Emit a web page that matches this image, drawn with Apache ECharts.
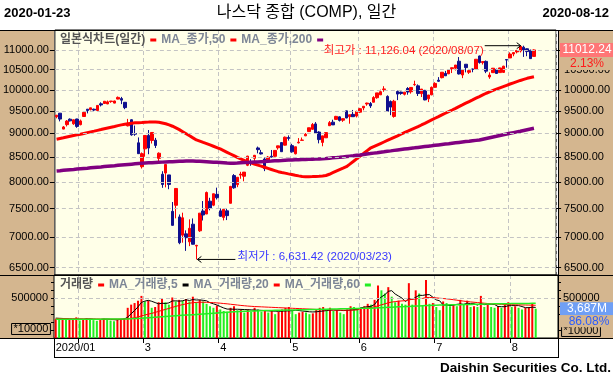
<!DOCTYPE html>
<html><head><meta charset="utf-8">
<script src="https://cdn.jsdelivr.net/npm/echarts@6/dist/echarts.min.js"></script>
<style>html,body{margin:0;padding:0;background:#fff}#c{width:613px;height:382px}</style>
</head><body><div id="c"></div>
<script>
const dates = ['2020-01-23','2020-01-24','2020-01-27','2020-01-28','2020-01-29','2020-01-30','2020-01-31',
'2020-02-03','2020-02-04','2020-02-05','2020-02-06','2020-02-07','2020-02-10','2020-02-11','2020-02-12','2020-02-13','2020-02-14','2020-02-18','2020-02-19','2020-02-20','2020-02-21','2020-02-24','2020-02-25','2020-02-26','2020-02-27','2020-02-28',
'2020-03-02','2020-03-03','2020-03-04','2020-03-05','2020-03-06','2020-03-09','2020-03-10','2020-03-11','2020-03-12','2020-03-13','2020-03-16','2020-03-17','2020-03-18','2020-03-19','2020-03-20','2020-03-23','2020-03-24','2020-03-25','2020-03-26','2020-03-27','2020-03-30','2020-03-31',
'2020-04-01','2020-04-02','2020-04-03','2020-04-06','2020-04-07','2020-04-08','2020-04-09','2020-04-13','2020-04-14','2020-04-15','2020-04-16','2020-04-17','2020-04-20','2020-04-21','2020-04-22','2020-04-23','2020-04-24','2020-04-27','2020-04-28','2020-04-29','2020-04-30',
'2020-05-01','2020-05-04','2020-05-05','2020-05-06','2020-05-07','2020-05-08','2020-05-11','2020-05-12','2020-05-13','2020-05-14','2020-05-15','2020-05-18','2020-05-19','2020-05-20','2020-05-21','2020-05-22','2020-05-26','2020-05-27','2020-05-28','2020-05-29',
'2020-06-01','2020-06-02','2020-06-03','2020-06-04','2020-06-05','2020-06-08','2020-06-09','2020-06-10','2020-06-11','2020-06-12','2020-06-15','2020-06-16','2020-06-17','2020-06-18','2020-06-19','2020-06-22','2020-06-23','2020-06-24','2020-06-25','2020-06-26','2020-06-29','2020-06-30',
'2020-07-01','2020-07-02','2020-07-06','2020-07-07','2020-07-08','2020-07-09','2020-07-10','2020-07-13','2020-07-14','2020-07-15','2020-07-16','2020-07-17','2020-07-20','2020-07-21','2020-07-22','2020-07-23','2020-07-24','2020-07-27','2020-07-28','2020-07-29','2020-07-30','2020-07-31',
'2020-08-03','2020-08-04','2020-08-05','2020-08-06','2020-08-07','2020-08-10','2020-08-11','2020-08-12'];
const blankSlots = ['2020-08-13','2020-08-14','2020-08-17','2020-08-18','2020-08-19','2020-08-20'];

const opens = [9368,9449,9092,9190,9313,9209,9317,
9190,9373,9541,9530,9540,9510,9666,9673,9663,9717,9682,9777,9788,9701,9164,9300,8994,8795,8300,
8667,8954,8845,8852,8470,8150,8174,8137,7450,7560,7350,7033,7055,6920,7222,6850,7107,7457,7402,7636,7562,7763,
7459,7342,7459,7597,8124,7947,8134,8111,8330,8395,8470,8686,8586,8457,8424,8514,8512,8689,8800,8745,8908,
8735,8564,8794,8848,8945,9037,9087,9207,9027,8804,8902,9167,9246,9308,9365,9289,9502,9371,9422,9383,
9472,9571,9662,9672,9703,9809,9878,10004,9840,9721,9375,9957,9944,9892,10030,9952,10123,10095,9906,9985,9784,9878,
10059,10235,10297,10405,10394,10523,10537,10716,10364,10638,10433,10517,10516,10852,10680,10711,10315,10423,10507,10424,10430,10759,
10801,10905,10960,10983,11086,11043,11002,10841];
const highs = [9409,9451,9160,9293,9330,9303,9322,
9304,9478,9543,9572,9553,9629,9701,9726,9743,9731,9740,9838,9829,9701,9319,9309,9170,8910,8592,
8953,9071,9019,8900,8594,8210,8345,8137,7620,7875,7394,7426,7115,7307,7323,6870,7418,7638,7816,7699,7776,7890,
7503,7503,7500,7924,8153,8091,8199,8192,8522,8454,8540,8715,8646,8488,8519,8644,8637,8732,8805,8930,8954,
8773,8711,8896,8908,9004,9121,9226,9247,9045,8944,9019,9272,9301,9388,9375,9325,9505,9412,9523,9505,
9571,9609,9692,9707,9846,9925,10002,10087,9867,9745,9759,9983,9955,9944,10064,10057,10222,10131,10018,9997,9875,10080,
10184,10311,10434,10467,10493,10549,10617,10824,10494,10643,10517,10524,10773,10862,10719,10735,10431,10540,10522,10548,10598,10761,
10948,10945,11003,11110,11126.04,11053,11020,11027];
const lows = [9332,9263,9088,9150,9262,9186,9120,
9175,9370,9444,9513,9496,9501,9604,9668,9658,9690,9677,9771,9658,9541,9151,8947,8945,8564,8264,
8504,8555,8780,8684,8365,7887,7895,7860,7197,7325,6880,6906,6770,6848,6877,6631.42,7088,7287,7402,7469,7544,7667,
7354,7288,7294,7594,7868,7899,8061,8012,8312,8319,8397,8573,8550,8212,8415,8483,8490,8650,8607,8737,8841,
8587,8551,8781,8846,8938,9028,9079,9002,8783,8721,8901,9159,9182,9305,9260,9252,9334,9211,9365,9352,
9451,9515,9621,9569,9702,9785,9873,9951,9485,9403,9346,9753,9879,9864,9881,9907,10096,9850,9826,9749,9706,9868,
10052,10194,10280,10340,10386,10413,10477,10376,10285,10430,10390,10433,10504,10653,10630,10411,10269,10417,10395,10420,10417,10550,
10801,10845,10921,10945,10828,10847,10775,10841];
const closes = [9402.48,9314.91,9139.31,9269.68,9275.16,9298.93,9150.94,
9273.40,9467.97,9508.68,9572.15,9520.51,9628.39,9638.94,9725.96,9711.97,9731.18,9732.74,9817.18,9750.97,9576.59,9221.28,8965.61,8980.78,8566.48,8567.37,
8952.17,8684.09,9018.09,8738.60,8575.62,7950.68,8344.25,7952.05,7201.80,7874.88,6904.59,7334.78,6989.84,7150.58,6879.52,6860.67,7417.86,7384.30,7797.54,7502.38,7774.15,7700.10,
7360.58,7487.31,7373.08,7913.24,7887.26,8090.90,8153.58,8192.42,8515.74,8393.18,8532.36,8650.14,8560.73,8263.23,8495.38,8494.75,8634.52,8730.16,8607.73,8914.71,8889.55,
8604.95,8710.71,8809.12,8854.39,8979.66,9121.32,9192.34,9002.55,8863.17,8943.72,9014.56,9234.83,9185.10,9375.78,9284.88,9324.59,9340.22,9412.36,9368.99,9489.87,
9552.05,9608.38,9682.91,9615.81,9814.08,9924.75,9953.75,10020.35,9492.73,9588.81,9726.02,9895.87,9910.53,9943.05,9946.12,10056.48,10131.37,9909.17,10017.00,9757.22,9874.15,10058.77,
10154.63,10207.63,10433.65,10343.89,10492.50,10547.75,10617.44,10390.84,10488.58,10550.49,10473.83,10503.19,10767.09,10680.36,10706.13,10461.42,10363.18,10536.27,10402.09,10542.94,10587.81,10745.27,
10902.80,10941.17,10998.40,11108.07,11010.98,10968.36,10782.82,11012.24];

const ma50 = [8871,8887,8902,8918,8934,8950,8965,8980,8997,9014,9031,9047,9064,9081,9099,9116,9133,9150,9168,9185,9200,9212,9222,
9230,9235,9240,9246,9248,9252,9250,9245,9228,9210,9185,9155,9120,9080,9035,8990,8945,8900,8856,
8830,8803,8777,8750,8722,8694,8665,8630,8595,8560,8525,8490,8458,8430,8402,
8378,8355,8333,8311,8289,8267,8245,8223,8201,8186,8172,8158,8145,8131,8118,8106,
8103,8102,8104,8107,8111,8117,8125,8150,8180,8210,8240,8270,8301,8352,8405,8460,8516,8570,8625,8680,
8713,8746,8779,8812,8845,8878,8912,8945,8979,9012,9045,9079,9112,9145,9183,9220,9258,9296,9334,9371,9409,9447,9484,9522,
9561,9601,9640,9680,9719,9758,9798,9837,9877,9916,9950,9983,10015,10047,10078,10109,10140,10170,10199,10228,10255,10281,10303,10322];
const ma200 = [8215,8221,8228,8234,8240,8246,8253,8259,8265,8271,8278,8284,8290,8296,8303,8309,8315,8321,8328,8334,8340,8346,8352,8358,8364,
8369,8374,8378,8382,8386,8390,8393,8397,8400,8403,8406,8409,8412,8414,8416,
8415,8412,8409,8405,8401,8397,8392,8388,8384,8379,8374,8370,
8372,8375,8379,8383,8387,8391,8395,8398,8402,8406,8410,8414,8419,8423,8427,8432,8436,
8438,8441,8443,8446,8448,8450,8452,8455,8457,8463,8468,8474,8480,8485,8491,8499,8507,8515,8523,8532,8540,
8549,8559,8568,8578,8587,8597,8606,8616,8625,8635,8644,8653,8662,8671,8680,8688,8697,8706,8715,8724,8732,8741,8750,8759,8768,8776,8785,8794,8803,8812,8821,8829,8838,8847,8856,
8872,8888,8904,8920,8935,8951,8967,8983,8999,9015,9031,9046,9062,9078,9094,9110];

const volumes = [240000,235000,245000,225000,230000,232000,260000,
220000,240000,250000,230000,225000,215000,235000,245000,230000,220000,210000,235000,240000,250000,
380000,420000,440000,470000,530000,
460000,470000,380000,390000,450000,500000,450000,420000,510000,460000,480000,470000,490000,460000,520000,450000,480000,460000,430000,400000,380000,410000,
360000,340000,330000,380000,400000,350000,360000,320000,360000,330000,380000,360000,330000,350000,320000,340000,300000,330000,360000,380000,390000,
350000,300000,320000,330000,320000,300000,310000,360000,380000,390000,350000,380000,340000,350000,320000,300000,360000,400000,390000,370000,
380000,400000,430000,420000,480000,660000,600000,560000,640000,520000,450000,470000,430000,420000,690000,420000,600000,560000,410000,730000,430000,440000,
390000,350000,460000,440000,400000,420000,400000,480000,420000,470000,390000,400000,390000,530000,390000,420000,390000,380000,400000,380000,420000,450000,
390000,400000,380000,360000,380000,390000,428300,368700];
const firstVolUp = true;
const volMa5 = [250000,248000,246000,244000,240000,236000,238000,236000,235000,238000,240000,236000,232000,233000,236000,237000,234000,230000,230000,235000,238000,
263000,305000,346000,392000,448000,464000,474000,462000,446000,430000,438000,434000,442000,466000,468000,464000,468000,482000,472000,484000,478000,480000,474000,468000,444000,430000,416000,396000,378000,364000,364000,362000,
362000,360000,358000,356000,354000,352000,350000,348000,345000,342000,340000,338000,336000,338000,340000,342000,
345000,348000,345000,340000,335000,330000,328000,330000,335000,340000,345000,350000,352000,350000,348000,345000,348000,352000,356000,360000,
380000,388000,394000,400000,422000,478000,518000,544000,588000,596000,554000,528000,502000,458000,492000,486000,512000,538000,536000,544000,546000,514000,
480000,468000,414000,416000,408000,414000,424000,428000,424000,438000,432000,432000,414000,436000,420000,426000,424000,422000,396000,394000,394000,406000,
408000,408000,408000,396000,382000,382000,388000,385000];
const volMa20 = [245000,245000,244000,244000,243000,243000,242000,242000,241000,241000,240000,240000,240000,239000,239000,238000,238000,238000,238000,238000,239000,242000,248000,
255000,265000,278000,290000,300000,310000,322000,335000,348000,360000,372000,385000,398000,410000,420000,430000,438000,444000,448000,450000,
450000,449000,447000,445000,442000,438000,434000,430000,425000,420000,415000,410000,406000,402000,399000,396000,394000,392000,
390000,388000,386000,384000,382000,380000,378000,376000,374000,372000,370000,368000,366000,364000,362000,360000,358000,356000,355000,354000,353000,352000,351000,350000,350000,351000,352000,354000,
370000,375000,380000,385000,392000,405000,418000,430000,443000,452000,458000,463000,467000,470000,482000,485000,492000,498000,498000,510000,510000,508000,
505000,500000,497000,493000,488000,482000,476000,470000,464000,459000,454000,450000,446000,442000,438000,434000,431000,428000,426000,424000,422000,420000,
419000,418000,417000,416000,415000,414000,413000,412000];
const volMa60 = [235000,235000,235000,235000,236000,236000,236000,236000,236000,237000,237000,237000,237000,237000,238000,238000,238000,238000,238000,238000,239000,240000,242000,244000,246000,249000,
252000,255000,258000,261000,264000,267000,270000,273000,276000,279000,282000,285000,288000,291000,294000,297000,300000,303000,306000,309000,312000,315000,
318000,321000,324000,327000,330000,332000,334000,336000,338000,340000,341000,342000,344000,345000,346000,347000,348000,349000,350000,351000,352000,
353000,354000,355000,356000,357000,358000,359000,360000,361000,362000,363000,364000,365000,366000,367000,368000,369000,370000,371000,372000,
373000,374000,375000,376000,378000,380000,382000,384000,386000,388000,390000,392000,394000,396000,398000,400000,402000,404000,406000,408000,410000,412000,
413000,414000,415000,416000,417000,418000,419000,420000,421000,422000,423000,424000,425000,426000,427000,428000,429000,430000,431000,431000,432000,432000,
433000,433000,434000,434000,435000,435000,436000,436000];

const priceTicks = [6500,7000,7500,8000,8500,9000,9500,10000,10500,11000];
const volTickLabels = [500000];
const xLabelMonths = ['01','03','04','05','06','07','08'];
const xTickLabels = ['2020/01','3','4','5','6','7','8'];

const FONT = "'Liberation Sans', Arial, 'Noto Sans CJK KR', sans-serif";
const TAN = '#d4b68f';
const PLOTBG = '#ffffe8';
const GRIDC = '#c4c4c4';
const UP = '#ff0000', DOWN = '#10108e';

const cats = dates.concat(blankSlots);
const monthOf = i => cats[i].slice(5,7);
const monthStart = cats.map((d,i) => i > 0 && monthOf(i) !== monthOf(i-1));
const labelAt = i => i === 0 || (monthStart[i] && xLabelMonths.indexOf(monthOf(i)) > 0);
const labelText = i => xTickLabels[xLabelMonths.indexOf(monthOf(i))];

const candleData = dates.map((d,i) => [opens[i], closes[i], lows[i], highs[i]]);
const volData = volumes.map((v,i) => ({value: v, itemStyle: {color: (i === 0 ? firstVolUp : v >= volumes[i-1]) ? '#ff0000' : '#22ee22'}}));

const dash = {color: GRIDC, type: [4,3], width: 1};
const baseX = {type:'category', data: cats, boundaryGap: true,
  axisLine:{show:false}, axisTick:{show:false}, axisLabel:{show:false},
  splitLine:{show:true, interval:(i)=>monthStart[i], lineStyle: dash}};
const priceAxis = (pos, margin) => ({type:'log', logBase:10, gridIndex:0, position:pos, min:6386, max:11557,
  axisLine:{show:false}, splitLine:{show:false},
  axisTick:{show:true, customValues: priceTicks, length:5, lineStyle:{color:'#000'}},
  axisLabel:{customValues: priceTicks, formatter: v => Number(v).toFixed(2), fontSize:11, color:'#000', margin: margin, fontFamily: FONT}});
const volAxis = (pos, margin) => ({type:'value', gridIndex:1, position:pos, min:0, max:793000, interval:100000,
  axisLine:{show:false}, splitLine:{show:false},
  axisTick:{show:true, length:3, lineStyle:{color:'#000'}},
  axisLabel:{formatter: v => volTickLabels.indexOf(v) >= 0 ? String(v) : '', fontSize:11, color:'#000', margin: margin, fontFamily: FONT}});

const legendRich = {
  a:{fontSize:12, color:'#555555', fontFamily:FONT, lineHeight:14},
  b:{fontSize:12, color:'#7d8696', fontFamily:FONT, lineHeight:14},
  r:{width:6, height:3, backgroundColor:'#ff0000'},
  k:{width:6, height:3, backgroundColor:'#000000'},
  p:{width:6, height:3, backgroundColor:'#800080'},
  g:{width:6, height:3, backgroundColor:'#22ee22'}
};

const option = {
  animation:false,
  backgroundColor:'#ffffff',
  textStyle:{fontFamily:FONT},
  title:[
    {left:4, top:7, padding:0, text:'2020-01-23', textStyle:{fontSize:13, fontWeight:'bold', color:'#000', fontFamily:FONT}},
    {left:'center', top:5, padding:0, text:'나스닥 종합 (COMP), 일간', textStyle:{fontSize:16, fontWeight:'normal', color:'#000', fontFamily:"'Liberation Sans','Noto Sans CJK KR',sans-serif"}},
    {right:4, top:7, padding:0, text:'2020-08-12', textStyle:{fontSize:13, fontWeight:'bold', color:'#000', fontFamily:FONT}},
    {right:2, top:362, padding:0, text:'Daishin Securities Co. Ltd.', textStyle:{fontSize:13.5, fontWeight:'bold', color:'#000', fontFamily:FONT}},
    {left:60, top:31, padding:0, text:'{a|일본식차트(일간)} {r| } {b|MA_종가,50} {r| } {b|MA_종가,200} {p| }', textStyle:{rich:legendRich}},
    {left:60, top:276, padding:0, text:'{a|거래량} {r| } {b|MA_거래량,5} {k| } {b|MA_거래량,20} {r| } {b|MA_거래량,60} {g| }', textStyle:{rich:legendRich}}
  ],
  grid:[
    {left:54, top:30, width:504, height:245, show:true, backgroundColor:PLOTBG, borderColor:'#000', borderWidth:1},
    {left:54, top:275, width:504, height:63, show:true, backgroundColor:PLOTBG, borderColor:'#000', borderWidth:1}
  ],
  xAxis:[
    Object.assign({}, baseX, {gridIndex:0}),
    Object.assign({}, baseX, {gridIndex:1,
      axisLine:{show:true, lineStyle:{color:'#000'}},
      axisTick:{show:true, interval:(i)=>monthStart[i], length:5, lineStyle:{color:'#000'}},
      axisLabel:{show:true, interval:(i)=>labelAt(i), formatter:(v,i)=>labelText(i), align:'left', margin:4, fontSize:11, color:'#000', fontFamily:FONT}})
  ],
  yAxis:[ priceAxis('left',6), priceAxis('right',8), volAxis('left',6), volAxis('right',5) ],
  series:[
    {type:'line', xAxisIndex:0, yAxisIndex:0, data:[], z:1, silent:true,
      markLine:{silent:true, symbol:'none', animation:false, label:{show:false}, lineStyle:dash, data: priceTicks.map(v => ({yAxis:v}))}},
    {type:'line', xAxisIndex:1, yAxisIndex:2, data:[], z:1, silent:true,
      markLine:{silent:true, symbol:'none', animation:false, label:{show:false}, lineStyle:dash, data: volTickLabels.map(v => ({yAxis:v}))}},
    {name:'일본식차트', type:'candlestick', xAxisIndex:0, yAxisIndex:0, data:candleData, barWidth:3, z:3,
      itemStyle:{color:UP, color0:DOWN, borderColor:UP, borderColor0:DOWN, borderWidth:1}},
    {name:'MA_종가,50', type:'line', xAxisIndex:0, yAxisIndex:0, data:ma50, showSymbol:false, z:4, lineStyle:{color:'#ff0000', width:3}},
    {name:'MA_종가,200', type:'line', xAxisIndex:0, yAxisIndex:0, data:ma200, showSymbol:false, z:4, lineStyle:{color:'#800080', width:3.5}},
    {name:'거래량', type:'bar', xAxisIndex:1, yAxisIndex:2, data:volData, barWidth:2, z:2},
    {name:'MA_거래량,5', type:'line', xAxisIndex:1, yAxisIndex:2, data:volMa5, showSymbol:false, z:4, lineStyle:{color:'#000', width:1}},
    {name:'MA_거래량,20', type:'line', xAxisIndex:1, yAxisIndex:2, data:volMa20, showSymbol:false, z:4, lineStyle:{color:'#ff0000', width:1}},
    {name:'MA_거래량,60', type:'line', xAxisIndex:1, yAxisIndex:2, data:volMa60, showSymbol:false, z:4, lineStyle:{color:'#22ee22', width:1.5}}
  ]
};

const chart = echarts.init(document.getElementById('c'), null, {renderer:'canvas'});
chart.setOption(option);

const last = dates.length - 1;
const hiIdx = highs.indexOf(Math.max.apply(null, highs));
const loIdx = lows.indexOf(Math.min.apply(null, lows));
const pHi = chart.convertToPixel({seriesIndex:2}, [hiIdx, highs[hiIdx]]);
const pLo = chart.convertToPixel({seriesIndex:2}, [loIdx, lows[loIdx]]);
const yLast = chart.convertToPixel({yAxisIndex:1}, closes[last]);
const yVol = chart.convertToPixel({yAxisIndex:3}, volumes[last]);
const fmt2 = v => v.toLocaleString('en-US', {minimumFractionDigits:2, maximumFractionDigits:2});
const pct = ((closes[last]/closes[last-1]-1)*100).toFixed(2) + '%';
const vpct = (volumes[last]/volumes[last-1]*100).toFixed(2) + '%';
const vM = Math.round(volumes[last]*10000/1e6).toLocaleString('en-US') + 'M';
const hiDate = dates[hiIdx].replace(/-/g,'/');
const loDate = dates[loIdx].replace(/-/g,'/');
const TF = "'Liberation Sans', Arial, 'Noto Sans CJK KR', sans-serif";

const g = [
  {type:'rect', z:-5, shape:{x:0, y:30, width:54, height:308}, style:{fill:TAN}},
  {type:'rect', z:-5, shape:{x:558, y:30, width:55, height:308}, style:{fill:TAN}},
  {type:'line', z:50, shape:{x1:0, y1:30.5, x2:613, y2:30.5}, style:{stroke:'#000', lineWidth:1}},
  {type:'line', z:50, shape:{x1:0, y1:275.5, x2:613, y2:275.5}, style:{stroke:'#000', lineWidth:1}},
  {type:'line', z:50, shape:{x1:0, y1:338.5, x2:613, y2:338.5}, style:{stroke:'#000', lineWidth:1}},
  {type:'line', z:50, shape:{x1:558.5, y1:30, x2:558.5, y2:358}, style:{stroke:'#000', lineWidth:1}},
  {type:'line', z:50, shape:{x1:54.5, y1:338, x2:54.5, y2:358}, style:{stroke:'#000', lineWidth:1}},
  {type:'line', z:50, shape:{x1:54, y1:357.5, x2:559, y2:357.5}, style:{stroke:'#000', lineWidth:1}},
  {type:'text', z:50, style:{text:'*10000', x:31, y:329, align:'center', verticalAlign:'middle', font:'11px '+TF, fill:'#000', borderColor:'#000', borderWidth:1, padding:[0,2,0,2]}},
  {type:'text', z:50, style:{text:'*10000', x:581, y:331, align:'center', verticalAlign:'middle', font:'11px '+TF, fill:'#000', borderColor:'#000', borderWidth:1, padding:[0,2,0,2]}},
  {type:'rect', z:60, shape:{x:560, y:yLast-7, width:53, height:14}, style:{fill:'#ff7676'}},
  {type:'text', z:61, style:{text:closes[last].toFixed(2), x:587, y:yLast, align:'center', verticalAlign:'middle', font:'12px '+TF, fill:'#fff'}},
  {type:'rect', z:60, shape:{x:559, y:yLast+7, width:54, height:13}, style:{fill:TAN}},
  {type:'text', z:61, style:{text:pct, x:587, y:yLast+14, align:'center', verticalAlign:'middle', font:'12px '+TF, fill:'#ff1a1a'}},
  {type:'rect', z:60, shape:{x:560, y:yVol-6.5, width:53, height:13}, style:{fill:'#6f9ff5'}},
  {type:'text', z:61, style:{text:vM, x:587, y:yVol, align:'center', verticalAlign:'middle', font:'12px '+TF, fill:'#fff'}},
  {type:'rect', z:60, shape:{x:559, y:yVol+6.5, width:54, height:12}, style:{fill:TAN}},
  {type:'text', z:61, style:{text:vpct, x:589, y:yVol+13, align:'center', verticalAlign:'middle', font:'12px '+TF, fill:'#2a5cff'}},
  {type:'line', z:60, shape:{x1:pHi[0]-39, y1:pHi[1], x2:pHi[0]-3, y2:pHi[1]}, style:{stroke:'#000', lineWidth:1}},
  {type:'polyline', z:60, shape:{points:[[pHi[0]-7, pHi[1]-3],[pHi[0]-3, pHi[1]],[pHi[0]-7, pHi[1]+3]]}, style:{stroke:'#000', lineWidth:1, fill:null}},
  {type:'text', z:60, style:{text:'최고가 : ' + fmt2(highs[hiIdx]) + ' (' + hiDate + ')', x:pHi[0]-40, y:pHi[1]+5, align:'right', verticalAlign:'middle', font:'11.5px '+TF, fill:'#ff2020'}},
  {type:'line', z:60, shape:{x1:pLo[0]+1, y1:pLo[1], x2:pLo[0]+39, y2:pLo[1]}, style:{stroke:'#000', lineWidth:1}},
  {type:'polyline', z:60, shape:{points:[[pLo[0]+5, pLo[1]-3],[pLo[0]+1, pLo[1]],[pLo[0]+5, pLo[1]+3]]}, style:{stroke:'#000', lineWidth:1, fill:null}},
  {type:'text', z:60, style:{text:'최저가 : ' + fmt2(lows[loIdx]) + ' (' + loDate + ')', x:pLo[0]+41, y:pLo[1]-3, align:'left', verticalAlign:'middle', font:'11.5px '+TF, fill:'#3838ff'}}
];
chart.setOption({graphic: g});
</script>
</body></html>
